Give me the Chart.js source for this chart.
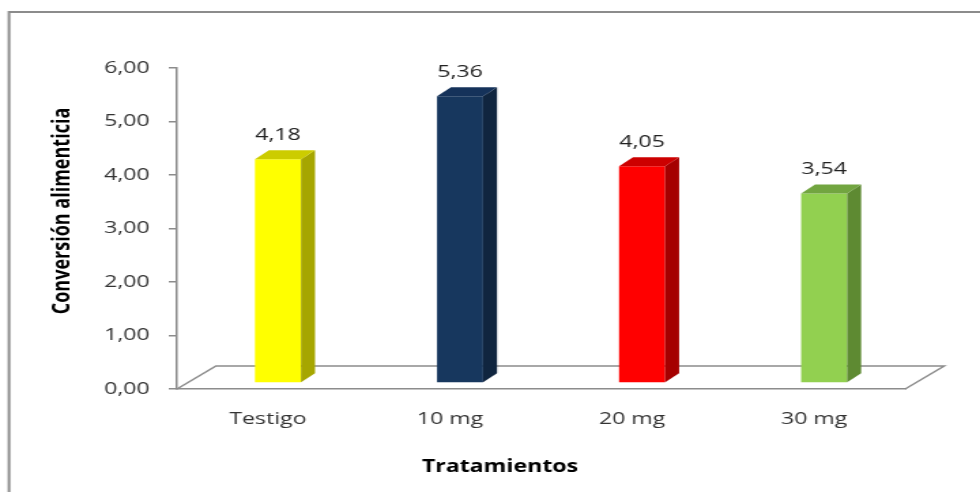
<!DOCTYPE html>
<html>
<head>
<meta charset="utf-8">
<script src="https://cdn.jsdelivr.net/npm/chart.js@4.4.1/dist/chart.umd.min.js"></script>
<style>
  html, body { margin: 0; padding: 0; background: #fff; }
  #chart { display: block; }
</style>
</head>
<body>
<!-- the original picture is a chart stretched sideways, so the canvas is too -->
<canvas id="chart" width="720" height="492" style="width:980px;height:492px"></canvas>
<script>
"use strict";

// ── Data ──────────────────────────────────────────────────────────
const CATEGORIES = ["Testigo", "10 mg", "20 mg", "30 mg"];
const VALUES     = [4.18, 5.36, 4.05, 3.54];
const Y_TICKS    = [0, 1, 2, 3, 4, 5, 6];

// ── Style ─────────────────────────────────────────────────────────
const FRONT = ["#FFFF00", "#17375E", "#FF0000", "#92D050"];
const SIDE  = ["#A6A600", "#10253F", "#A50000", "#5E8A32"];
const TOP   = ["#CCCC00", "#15325A", "#CC0000", "#72A540"];

const S      = 980 / 720;          // horizontal stretch of the canvas
const AXIS   = "#8C8C8C";
const TEXT   = "#333333";
const FONT   = "'Open Sans', 'DejaVu Sans', sans-serif";

const PLANE = { dx: 10 / S, dy: -6 };   // bars stand a little behind the front edge
const DEPTH = { dx: 14 / S, dy: -9 };   // bar thickness
const FLOOR = { dx: 39 / S, dy: -23 };  // floor depth

const fmt = v => v.toFixed(2).replace(".", ",");

// ── 3D decoration plugin ──────────────────────────────────────────
const box3d = {
  id: "box3d",
  beforeDraw(chart) {
    const ctx = chart.ctx;
    ctx.save();
    ctx.fillStyle = "#fff";
    ctx.fillRect(0, 0, chart.width, chart.height);
    ctx.strokeStyle = AXIS;
    ctx.lineWidth = 2;
    ctx.beginPath();
    ctx.moveTo(9 / S, chart.height);
    ctx.lineTo(9 / S, 12);
    ctx.lineTo(chart.width, 12);
    ctx.stroke();
    ctx.restore();
  },
  beforeDatasetsDraw(chart) {
    const { ctx, chartArea: a } = chart;
    ctx.save();
    ctx.strokeStyle = AXIS;
    ctx.lineWidth = 1.5;
    ctx.beginPath();
    ctx.moveTo(a.left, a.bottom);
    ctx.lineTo(a.left + FLOOR.dx, a.bottom + FLOOR.dy);
    ctx.lineTo(a.right + FLOOR.dx, a.bottom + FLOOR.dy);
    ctx.lineTo(a.right, a.bottom);
    ctx.stroke();
    ctx.restore();
    // bars are drawn by Chart.js, shifted back into the box
    ctx.save();
    ctx.translate(PLANE.dx, PLANE.dy);
  },
  afterDatasetsDraw(chart) {
    const ctx = chart.ctx;
    const meta = chart.getDatasetMeta(0);
    meta.data.forEach((bar, i) => {
      const { x, y, base, width } = bar.getProps(["x", "y", "base", "width"], true);
      const l = x - width / 2, r = x + width / 2;
      ctx.fillStyle = SIDE[i];
      ctx.beginPath();
      ctx.moveTo(r, y);
      ctx.lineTo(r + DEPTH.dx, y + DEPTH.dy);
      ctx.lineTo(r + DEPTH.dx, base + DEPTH.dy);
      ctx.lineTo(r, base);
      ctx.closePath();
      ctx.fill();
      ctx.fillStyle = TOP[i];
      ctx.beginPath();
      ctx.moveTo(l, y);
      ctx.lineTo(r, y);
      ctx.lineTo(r + DEPTH.dx, y + DEPTH.dy);
      ctx.lineTo(l + DEPTH.dx, y + DEPTH.dy);
      ctx.closePath();
      ctx.fill();
      ctx.fillStyle = "#222";
      ctx.font = `17px ${FONT}`;
      ctx.textAlign = "center";
      ctx.textBaseline = "middle";
      ctx.fillText(fmt(VALUES[i]), x, y - 24);
    });
    ctx.restore();
  },
  afterDraw(chart) {
    const ctx = chart.ctx;
    ctx.save();
    ctx.fillStyle = "#000";
    ctx.textAlign = "center";
    ctx.textBaseline = "middle";
    ctx.font = `bold 17px ${FONT}`;
    ctx.fillText("Tratamientos", 500 / S, 467);
    ctx.translate(62 / S, 211);
    ctx.rotate(-Math.PI / 2);
    ctx.font = `bold 18px ${FONT}`;
    ctx.fillText("Conversión alimenticia", 0, 0);
    ctx.restore();
  }
};

// ── Chart ─────────────────────────────────────────────────────────
new Chart(document.getElementById("chart"), {
  type: "bar",
  data: {
    labels: CATEGORIES,
    datasets: [{
      data: VALUES,
      backgroundColor: FRONT,
      borderWidth: 0,
      barPercentage: 0.253,
      categoryPercentage: 1,
      clip: false
    }]
  },
  options: {
    responsive: false,
    animation: false,
    devicePixelRatio: 1,
    layout: { padding: { left: 0, top: 68, right: 55, bottom: 43 } },
    plugins: { legend: { display: false }, tooltip: { enabled: false } },
    scales: {
      x: {
        afterFit: s => { s.height = 60; },
        grid: { display: false },
        border: { display: true, color: AXIS, width: 1.5 },
        ticks: { color: TEXT, font: { family: FONT, size: 17 }, padding: 12 }
      },
      y: {
        min: 0, max: 6,
        afterFit: s => { s.width = 130; },
        afterBuildTicks: s => { s.ticks = Y_TICKS.map(v => ({ value: v })); },
        grid: { display: true, drawOnChartArea: false, drawTicks: true, tickLength: 6, color: AXIS, lineWidth: 1.5 },
        border: { display: true, color: AXIS, width: 1.5 },
        ticks: { color: TEXT, font: { family: FONT, size: 17 }, padding: 14, callback: v => fmt(v) }
      }
    }
  },
  plugins: [box3d]
});
</script>
</body>
</html>
